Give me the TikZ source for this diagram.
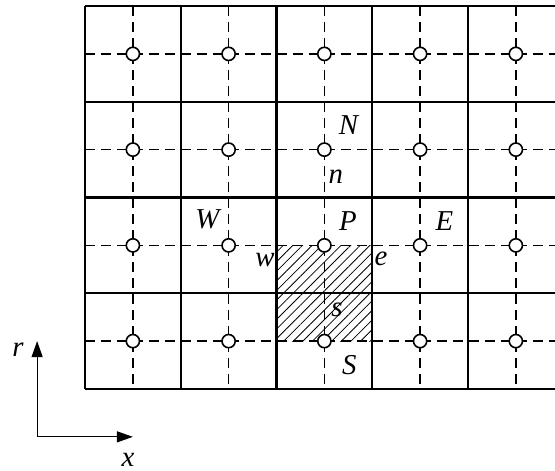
\documentclass[tikz,border=0pt]{standalone}
\usepackage{fontspec}
\setmainfont{Liberation Serif}
\usetikzlibrary{arrows.meta, patterns.meta, positioning}

\tikzset{
  faceline/.style={line width=1.1pt},
  gridline/.style={line width=0.8pt, dash pattern=on 5pt off 3pt},
  cvnode/.style={circle, draw, fill=white, line width=0.8pt, inner sep=0pt, minimum size=6.6pt},
  lbl/.style={font=\fontsize{14.4}{17}\selectfont\itshape, inner sep=0pt},
  axisarrow/.style={line width=0.6pt, -{Triangle[length=8pt,width=5.5pt]}}
}

\begin{document}
\begin{tikzpicture}[x=47.875pt, y=-47.875pt]
  \useasboundingbox (-0.8877,-0.0627) rectangle (4.909,4.8564);

  % control volume faces
  \foreach \j in {0,...,4}
    \draw[faceline] (0,\j) -- (4.909,\j);
  \foreach \i in {0,...,4}
    \draw[faceline] (\i,0) -- (\i,4);

  % grid lines through the nodes
  \foreach \j in {0,...,3}
    \draw[gridline] (0,\j+0.5) -- (4.909,\j+0.5);
  \foreach \i in {0,...,4}
    \draw[gridline] (\i+0.5,0) -- (\i+0.5,4);

  % staggered control volume
  \fill[pattern={Lines[angle=45,distance=3.4pt,line width=0.4pt]}] (2,2.5) rectangle (3,3.5);

  % nodes
  \foreach \i in {0,...,4}
    \foreach \j in {0,...,3}
      \node[cvnode] (c\i\j) at (\i+0.5,\j+0.5) {};

  % node and face labels
  \node[lbl] (lN) at ([shift={(0.252,-0.261)}]c21) {N};
  \node[lbl] (lP) at ([shift={(0.247,-0.249)}]c22) {P};
  \node[lbl] (lE) at ([shift={(0.255,-0.249)}]c32) {E};
  \node[lbl] (lW) at ([shift={(-0.221,-0.27)}]c12) {W};
  \node[lbl] (lS) at ([shift={(0.262,0.249)}]c23) {S};
  \node[lbl] (ln) at ([shift={(0.121,0.28)}]c21) {n};
  \node[lbl] (ls) at ([shift={(0.132,-0.325)}]c23) {s};
  \node[lbl] (le) at ([shift={(0.591,0.137)}]c22) {e};
  \node[lbl] (lw) at ([shift={(-0.62,0.153)}]c22) {w};

  % axes
  \coordinate (orig) at (-0.5,4.5);
  \coordinate (rtip) at (-0.5,3.5);
  \coordinate (xtip) at (0.5,4.5);
  \draw[axisarrow] (orig) -- (rtip);
  \draw[axisarrow] (orig) -- (xtip);
  \node[lbl] (lr) at (-0.70,3.593) {r};
  \node[lbl] (lx) at (0.449,4.741) {x};
\end{tikzpicture}
\end{document}
